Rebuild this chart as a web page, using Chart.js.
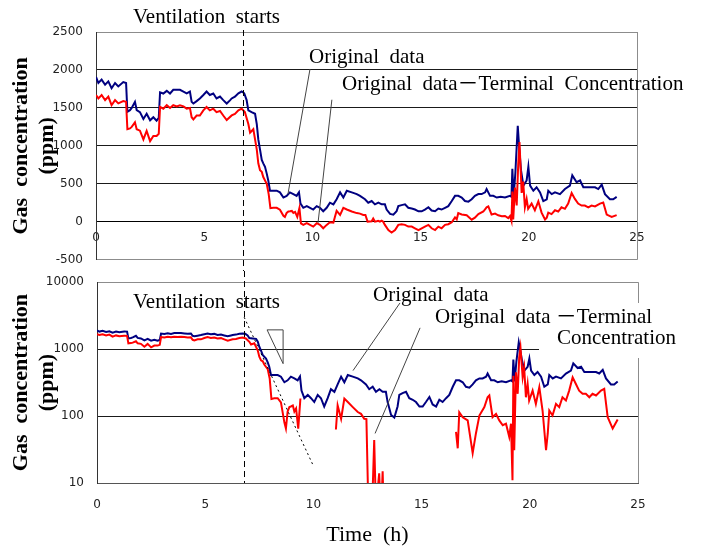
<!DOCTYPE html>
<html>
<head>
<meta charset="utf-8">
<script src="https://cdn.jsdelivr.net/npm/chart.js@4"></script>
<style>
  body { margin: 0; background: #fff; }
  #wrap { position: relative; width: 707px; height: 548px; background: #fff; }
  canvas { position: absolute; left: 0; }
</style>
</head>
<body>
<div id="wrap">
  <canvas id="chartLinear" width="707" height="280" style="top:0"></canvas>
  <canvas id="chartLog" width="707" height="286" style="top:262px"></canvas>
</div>
<script>
// data (time in h, concentration in ppm)
const ventTime = 6.8;
const timeTicks = [0, 5, 10, 15, 20, 25];
const linearTicks = [-500, 0, 500, 1000, 1500, 2000, 2500];
const logTicks = [10, 100, 1000, 10000];

const origTime = [0,0.11,0.26,0.42,0.57,0.72,0.88,1.03,1.26,1.39,1.45,1.57,1.65,1.8,1.88,2.03,2.19,2.34,2.5,2.65,2.8,2.9,2.96,3.11,3.27,3.42,3.57,3.73,3.88,4.04,4.19,4.34,4.42,4.5,4.65,4.8,4.96,5.11,5.26,5.42,5.57,5.73,5.88,6.04,6.19,6.27,6.42,6.58,6.73,6.85,6.96,7.04,7.19,7.35,7.43,7.5,7.58,7.66,7.73,7.81,7.89,7.96,8.04,8.19,8.35,8.5,8.66,8.81,8.96,9.12,9.27,9.38,9.45,9.58,9.74,9.89,10.04,10.2,10.35,10.5,10.66,10.81,10.97,11.12,11.28,11.43,11.59,11.82,12.05,12.2,12.43,12.58,12.74,12.89,13.05,13.2,13.35,13.43,13.59,13.74,13.89,13.97,14.12,14.28,14.43,14.59,14.74,14.9,15.05,15.2,15.36,15.51,15.67,15.82,15.97,16.13,16.28,16.44,16.59,16.74,16.9,17.05,17.21,17.36,17.51,17.67,17.82,17.98,18.05,18.21,18.36,18.52,18.7,18.9,19.13,19.2,19.24,19.3,19.38,19.49,19.55,19.64,19.75,19.9,19.98,20.06,20.21,20.36,20.52,20.67,20.83,20.9,21.06,21.21,21.44,21.67,21.9,22.01,22.21,22.37,22.52,22.75,23.06,23.21,23.37,23.52,23.75,23.9,24.06];
const origPpm = [1909,1828,1873,1806,1850,1760,1828,1783,1841,1828,1450,1470,1500,1580,1472,1445,1355,1423,1337,1378,1333,1370,1706,1690,1725,1690,1738,1738,1738,1715,1693,1715,1580,1558,1590,1625,1670,1716,1670,1690,1625,1650,1603,1558,1600,1625,1648,1693,1716,1693,1603,1468,1445,1423,1288,1085,950,815,770,725,635,545,410,410,410,388,320,342,388,365,342,390,240,185,207,185,162,207,185,139,185,252,230,297,388,320,410,388,365,342,297,252,274,230,252,230,230,162,104,95,139,207,220,230,185,175,162,139,139,162,193,149,139,175,162,185,207,274,342,342,320,274,266,297,342,365,365,388,432,342,342,320,330,320,342,330,700,330,650,1266,1000,680,477,545,725,477,410,455,388,274,297,410,365,388,365,432,477,612,522,545,455,455,455,432,490,365,297,297,328];

const diffTime = [0,0.11,0.26,0.42,0.57,0.72,0.88,1.03,1.26,1.39,1.45,1.57,1.65,1.8,1.88,2.03,2.19,2.34,2.5,2.65,2.8,2.9,2.96,3.11,3.27,3.42,3.57,3.73,3.88,4.04,4.19,4.34,4.42,4.5,4.65,4.8,4.96,5.11,5.26,5.42,5.57,5.73,5.88,6.04,6.27,6.42,6.58,6.73,6.88,7.04,7.12,7.27,7.43,7.5,7.58,7.66,7.73,7.89,7.98,8.06,8.19,8.35,8.5,8.66,8.73,8.81,8.89,8.96,9.05,9.12,9.2,9.3,9.4,9.47,9.58,9.74,9.89,10.04,10.2,10.35,10.5,10.66,10.81,10.97,11.04,11.12,11.28,11.43,11.59,11.82,12.05,12.2,12.35,12.45,12.55,12.65,12.74,12.81,12.89,12.97,13.04,13.12,13.2,13.27,13.35,13.51,13.66,13.82,13.97,14.12,14.28,14.43,14.59,14.74,14.9,15.05,15.2,15.36,15.51,15.67,15.82,15.97,16.13,16.28,16.44,16.59,16.67,16.74,16.9,17.13,17.36,17.51,17.67,17.9,18.05,18.13,18.28,18.44,18.59,18.75,18.9,19.05,19.13,19.2,19.24,19.28,19.36,19.44,19.51,19.57,19.67,19.74,19.82,19.9,19.97,20.13,20.28,20.44,20.59,20.75,20.83,20.9,21.05,21.21,21.36,21.51,21.67,21.82,21.98,22.13,22.28,22.44,22.59,22.75,22.9,23.06,23.29,23.44,23.6,23.83,24.06];
const diffPpm = [1670,1625,1670,1603,1650,1536,1603,1560,1590,1580,1220,1230,1250,1310,1220,1200,1085,1198,1063,1130,1130,1160,1513,1490,1536,1500,1536,1520,1536,1520,1490,1500,1378,1350,1400,1400,1468,1513,1468,1490,1445,1460,1400,1340,1401,1420,1468,1490,1445,1288,1175,1220,950,770,680,658,590,500,365,180,185,185,160,80,65,117,136,139,144,117,130,65,183,-20,-40,-18,-40,-63,-18,-40,-85,-40,-5,-10,63,144,91,183,162,136,115,108,91,90,3,5,8,44,4,8,14,3,15,2,-40,-108,-140,-108,-40,-31,-40,-63,-63,-85,-108,-85,-63,-40,-85,-108,-63,-85,-40,-31,-5,58,33,114,96,86,28,55,102,136,191,203,96,108,86,73,77,49,77,11,400,31,450,215,750,1050,380,530,191,302,171,240,152,270,121,31,55,121,102,152,136,191,171,240,380,302,240,215,215,191,215,203,240,255,96,65,89];

const serif = '"Liberation Serif", "Times New Roman", "Noto Sans CJK JP", serif';
const sans = '"DejaVu Sans", sans-serif';
const logCanvasTop = 262;

function series(t, v) {
    return t.map((x, i) => ({ x: x, y: v[i] }));
}

function makeDatasets() {
    return [
        { label: "Original data－Terminal Concentration", data: series(diffTime, diffPpm),
          borderColor: "#ff0000", borderWidth: 2, pointRadius: 0, tension: 0 },
        { label: "Original data", data: series(origTime, origPpm),
          borderColor: "#000080", borderWidth: 2, pointRadius: 0, tension: 0 }
    ];
}

function line(ctx, x1, y1, x2, y2) {
    ctx.beginPath();
    ctx.moveTo(x1, y1);
    ctx.lineTo(x2, y2);
    ctx.stroke();
}

function text(ctx, s, x, y) {
    ctx.font = "21px " + serif;
    ctx.fillStyle = "#000";
    ctx.textBaseline = "alphabetic";
    ctx.textAlign = "left";
    ctx.fillText(s, x, y);
}

// gray right border of the plot
const rightBorder = {
    id: "rightBorder",
    beforeDatasetsDraw(chart) {
        const { ctx, chartArea: a } = chart;
        ctx.save();
        ctx.strokeStyle = "#8c8c8c";
        ctx.lineWidth = 1;
        line(ctx, Math.round(a.right) + 0.5, a.top, Math.round(a.right) + 0.5, a.bottom);
        ctx.restore();
    }
};

const linearNotes = {
    id: "linearNotes",
    afterDatasetsDraw(chart) {
        const { ctx } = chart;
        const xs = chart.scales.x, ys = chart.scales.y;
        const P = (t, v) => [xs.getPixelForValue(t), ys.getPixelForValue(v)];
        ctx.save();
        const vx = Math.round(xs.getPixelForValue(ventTime)) + 0.5;
        ctx.strokeStyle = "#000";
        ctx.lineWidth = 1;
        ctx.setLineDash([6, 4]);
        line(ctx, vx, 30, vx, logCanvasTop + 9);
        ctx.setLineDash([]);
        ctx.strokeStyle = "#444";
        line(ctx, ...P(9.89, 2013), ...P(8.87, 365));
        line(ctx, ...P(10.9, 1608), ...P(10.26, -14));
        text(ctx, "Ventilation  starts", 133, 23);
        text(ctx, "Original  data", 309, 63);
        text(ctx, "Original  data－Terminal  Concentration", 342, 90);
        ctx.restore();
    }
};

const logBox = {
    id: "logBox",
    beforeDatasetsDraw(chart) {
        const { ctx } = chart;
        ctx.save();
        ctx.fillStyle = "#fff";
        ctx.fillRect(539, 303 - logCanvasTop, 168, 55);
        ctx.restore();
    }
};

const logNotes = {
    id: "logNotes",
    afterDatasetsDraw(chart) {
        const { ctx, chartArea: a } = chart;
        const xs = chart.scales.x, ys = chart.scales.y;
        const P = (t, v) => [xs.getPixelForValue(t), ys.getPixelForValue(v)];
        ctx.save();
        const vx = Math.round(xs.getPixelForValue(ventTime)) + 0.5;
        ctx.strokeStyle = "#000";
        ctx.lineWidth = 1;
        ctx.setLineDash([6, 4]);
        line(ctx, vx, 9, vx, a.bottom);
        ctx.setLineDash([2, 3]);
        line(ctx, ...P(6.8, 3000), ...P(10.0, 18));
        ctx.setLineDash([]);
        ctx.strokeStyle = "#444";
        // slope triangle
        ctx.beginPath();
        ctx.moveTo(...P(7.86, 1940));
        ctx.lineTo(...P(8.6, 1940));
        ctx.lineTo(...P(8.6, 607));
        ctx.closePath();
        ctx.stroke();
        line(ctx, ...P(14.0, 4890), ...P(11.83, 478));
        line(ctx, ...P(14.93, 2080), ...P(12.85, 55));
        text(ctx, "Ventilation  starts", 133, 308 - logCanvasTop);
        text(ctx, "Original  data", 373, 301 - logCanvasTop);
        text(ctx, "Original  data －Terminal", 435, 323 - logCanvasTop);
        text(ctx, "Concentration", 557, 344 - logCanvasTop);
        ctx.restore();
    }
};

const yTickFont = { family: sans, size: 12 };
const xTickFont = { family: sans, size: 12 };
const yTitle = {
    display: true,
    text: ["Gas  concentration", "(ppm)"],
    color: "#000",
    font: { family: serif, size: 22, weight: "bold", lineHeight: 1.15 },
    padding: { top: 9, bottom: 0 }
};

// 1) linear panel
new Chart(document.getElementById("chartLinear").getContext("2d"), {
    type: "line",
    data: { datasets: makeDatasets() },
    options: {
        responsive: false, animation: false,
        layout: { padding: { top: 32, right: 70, left: 0, bottom: 0 } },
        plugins: { legend: { display: false }, tooltip: { enabled: false } },
        scales: {
            x: {
                type: "linear", min: 0, max: 25, position: { y: 0 },
                afterBuildTicks: s => { s.ticks = timeTicks.map(v => ({ value: v })); },
                afterFit: s => { s.height = 26; },
                grid: { display: false, drawTicks: false },
                border: { color: "#000", width: 1 },
                ticks: { padding: 9, font: xTickFont, color: "#222", maxRotation: 0, autoSkip: false }
            },
            y: {
                min: -500, max: 2500,
                afterBuildTicks: s => { s.ticks = linearTicks.map(v => ({ value: v })); },
                afterFit: s => { s.width = 96; },
                grid: { drawTicks: false, lineWidth: 1,
                        color: c => (c.tick.value === 2500 || c.tick.value === -500) ? "#8c8c8c" : "#1a1a1a" },
                border: { color: "#333" },
                ticks: { padding: 13, font: yTickFont, color: "#222", callback: v => String(v) },
                title: yTitle
            }
        }
    },
    plugins: [rightBorder, linearNotes]
});

// 2) log panel
new Chart(document.getElementById("chartLog").getContext("2d"), {
    type: "line",
    data: { datasets: makeDatasets() },
    options: {
        responsive: false, animation: false,
        layout: { padding: { top: 19, right: 69, left: 0, bottom: 0 } },
        plugins: { legend: { display: false }, tooltip: { enabled: false } },
        scales: {
            x: {
                type: "linear", min: 0, max: 25, position: "bottom",
                afterBuildTicks: s => { s.ticks = timeTicks.map(v => ({ value: v })); },
                afterFit: s => { s.height = 65; },
                grid: { display: false, drawTicks: false },
                border: { color: "#555", width: 1 },
                ticks: { padding: 15, font: xTickFont, color: "#222", maxRotation: 0, autoSkip: false },
                title: { display: true, text: "Time  (h)", color: "#000",
                         font: { family: serif, size: 22 }, padding: { top: 0, bottom: 0 } }
            },
            y: {
                type: "logarithmic", min: 10, max: 10000,
                afterBuildTicks: s => { s.ticks = logTicks.map(v => ({ value: v })); },
                afterFit: s => { s.width = 97; },
                grid: { drawTicks: false, lineWidth: 1,
                        color: c => c.tick.value === 10000 ? "#8c8c8c" : "#1a1a1a" },
                border: { color: "#333" },
                ticks: { padding: 13, font: yTickFont, color: "#222", callback: v => String(v) },
                title: yTitle
            }
        }
    },
    plugins: [rightBorder, logBox, logNotes]
});
</script>
</body>
</html>
